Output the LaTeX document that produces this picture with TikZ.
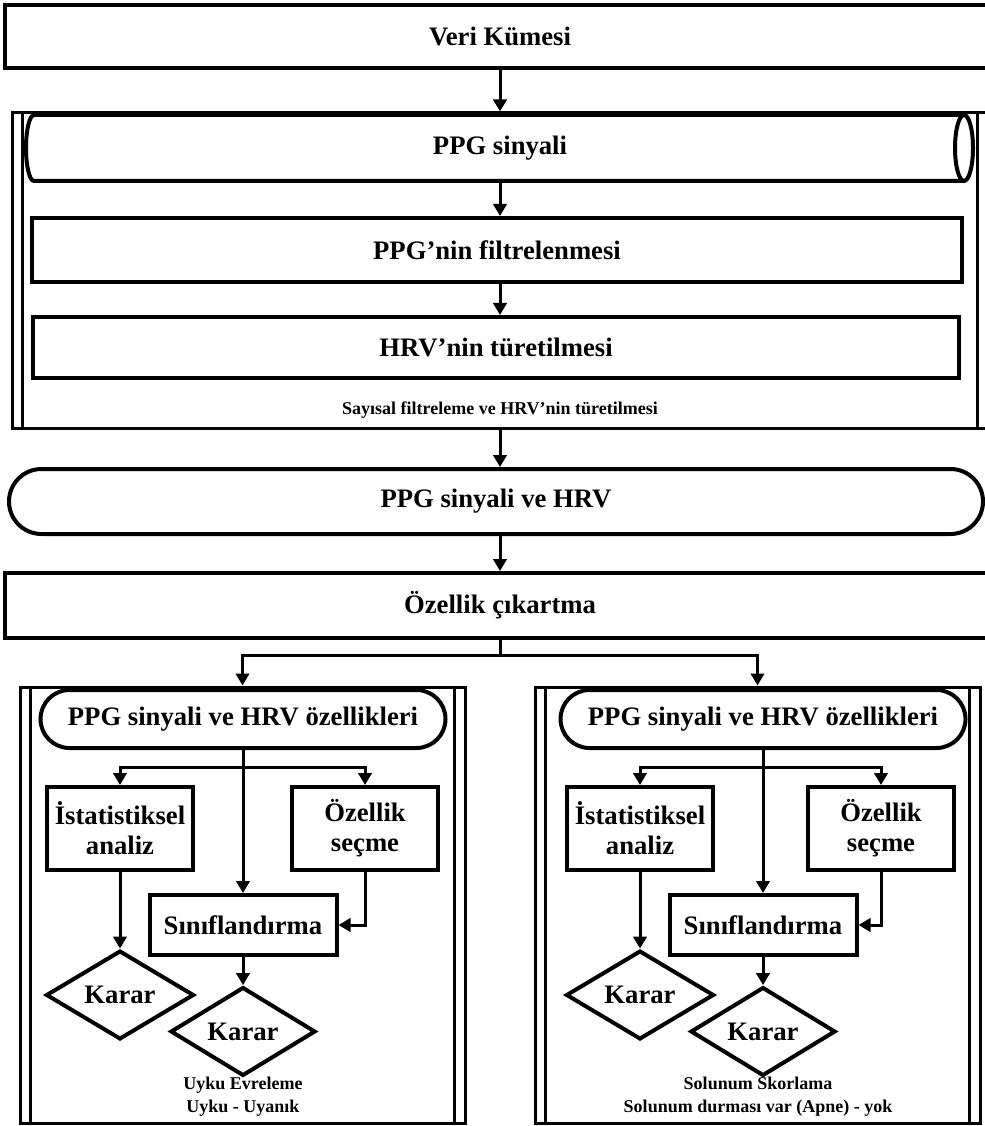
\documentclass[tikz,border=0pt]{standalone}
\usepackage{fontspec}
\setmainfont{Liberation Serif}
\usetikzlibrary{arrows.meta,shapes.geometric,shapes.misc}

\tikzset{
	kutu/.style={draw, line width=3pt, rectangle, inner sep=0pt, align=center, font=\fontsize{20}{22.5}\selectfont\bfseries},
	uc/.style={draw, line width=3pt, rounded rectangle, inner sep=0pt, font=\fontsize{20}{22.5}\selectfont\bfseries},
	karar/.style={draw, line width=3pt, diamond, inner sep=0pt, font=\fontsize{20}{22.5}\selectfont\bfseries},
	cerceve/.style={draw, line width=2.25pt, rectangle, inner sep=0pt},
	yazi/.style={inner sep=0.75pt, align=center, font=\fontsize{13.5}{17}\selectfont\bfseries},
	ok/.style={line width=2.25pt, -{Triangle[length=9pt,width=10pt]}},
}

\begin{document}
\begin{tikzpicture}[x=0.75pt,y=0.75pt,yscale=-1,xscale=1]
	\useasboundingbox (0,0) rectangle (984,1126);
	
	%Shape: Rectangle [id:veri]
	\draw (500,36.5) node [kutu, minimum width=742.5pt, minimum height=47.25pt] (veri) {Veri Kümesi};
	%Shape: Predefined process [id:filtre]
	\draw (500,270.5) node [cerceve, minimum width=732pt, minimum height=236.25pt] (filtre) {};
	\draw [line width=2.25pt] ([xshift=9pt]filtre.north west) -- ([xshift=9pt]filtre.south west);
	\draw [line width=2.25pt] ([xshift=-9pt]filtre.north east) -- ([xshift=-9pt]filtre.south east);
	%Shape: Cylinder [id:sinyal]
	\draw [line width=3pt] (964,115) -- (34,115) arc [start angle=270, end angle=90, x radius=8, y radius=33] -- (964,181) ;
	\draw [line width=3pt] (964,148) ellipse [x radius=9, y radius=33] ;
	\draw (500,148) node [kutu, draw=none, minimum width=711pt, minimum height=49.5pt] (sinyal) {PPG sinyali};
	%Shape: Rectangle [id:filtrele]
	\draw (497,250) node [kutu, minimum width=697.5pt, minimum height=48pt] (filtrele) {PPG’nin filtrelenmesi};
	%Shape: Rectangle [id:turet]
	\draw (496,347.5) node [kutu, minimum width=694.5pt, minimum height=45.75pt] (turet) {HRV’nin türetilmesi};
	% Text Node
	\draw (500,410) node [yazi] (filtreyazi) {Sayısal filtreleme ve HRV’nin türetilmesi};
	%Shape: Terminator [id:hrv]
	\draw (496,501.5) node [uc, minimum width=730.5pt, minimum height=48.75pt] (hrv) {PPG sinyali ve HRV};
	%Shape: Rectangle [id:ozellik]
	\draw (500,605.5) node [kutu, minimum width=742.5pt, minimum height=48.75pt] (ozellik) {Özellik çıkartma};
	
	%Shape: Predefined process [id:solpanel]
	\draw (242.5,905) node [cerceve, minimum width=333.75pt, minimum height=327pt] (solpanel) {};
	\draw [line width=2.25pt] ([xshift=9pt]solpanel.north west) -- ([xshift=9pt]solpanel.south west);
	\draw [line width=2.25pt] ([xshift=-9pt]solpanel.north east) -- ([xshift=-9pt]solpanel.south east);
	%Shape: Predefined process [id:sagpanel]
	\draw (757.5,905) node [cerceve, minimum width=333.75pt, minimum height=327pt] (sagpanel) {};
	\draw [line width=2.25pt] ([xshift=9pt]sagpanel.north west) -- ([xshift=9pt]sagpanel.south west);
	\draw [line width=2.25pt] ([xshift=-9pt]sagpanel.north east) -- ([xshift=-9pt]sagpanel.south east);
	
	% left panel
	\draw (243,719) node [uc, minimum width=303.75pt, minimum height=43.5pt] (ozsol) {PPG sinyali ve HRV özellikleri};
	\draw (120,828.5) node [kutu, minimum width=109.5pt, minimum height=62.25pt] (istsol) {İstatistiksel\\analiz};
	\draw (365,828.5) node [kutu, minimum width=109.5pt, minimum height=62.25pt] (secsol) {Özellik\\seçme};
	\draw (243,925) node [kutu, minimum width=140.25pt, minimum height=45pt] (sinsol) {Sınıflandırma};
	\draw (120,995) node [karar, minimum width=111pt, minimum height=48.75pt] (karsol1) {Karar};
	\draw (243,1031.5) node [karar, minimum width=108.75pt, minimum height=47.25pt] (karsol2) {Karar};
	% Text Node
	\draw (243,1097) node [yazi] (yazisol) {Uyku Evreleme\\Uyku - Uyanık};
	
	% right panel
	\draw (763,719) node [uc, minimum width=303.75pt, minimum height=43.5pt] (ozsag) {PPG sinyali ve HRV özellikleri};
	\draw (640,828.5) node [kutu, minimum width=109.5pt, minimum height=62.25pt] (istsag) {İstatistiksel\\analiz};
	\draw (881,828.5) node [kutu, minimum width=109.5pt, minimum height=62.25pt] (secsag) {Özellik\\seçme};
	\draw (763,925) node [kutu, minimum width=140.25pt, minimum height=45pt] (sinsag) {Sınıflandırma};
	\draw (640,995) node [karar, minimum width=111pt, minimum height=48.75pt] (karsag1) {Karar};
	\draw (763,1031.5) node [karar, minimum width=108.75pt, minimum height=47.25pt] (karsag2) {Karar};
	% Text Node
	\draw (758,1097) node [yazi] (yazisag) {Solunum Skorlama\\Solunum durması var (Apne) - yok};
	
	% arrows
	\draw [ok] (veri.south) -- (filtre.north);
	\draw [ok] (sinyal.south) -- (sinyal.south |- filtrele.north);
	\draw [ok] (sinyal.south |- filtrele.south) -- (sinyal.south |- turet.north);
	\draw [ok] (filtre.south) -- (filtre.south |- hrv.north);
	\draw [ok] (hrv.south -| ozellik.north) -- (ozellik.north);
	\draw [ok] (ozellik.south) -- ++(0,15) -| (solpanel.north);
	\draw [ok] (ozellik.south) -- ++(0,15) -| (sagpanel.north);
	
	\draw [ok] (ozsol.south) -- (sinsol.north);
	\draw [ok] (ozsol.south) -- ++(0,17) -| (istsol.north);
	\draw [ok] (ozsol.south) -- ++(0,17) -| (secsol.north);
	\draw [ok] (secsol.south) |- (sinsol.east);
	\draw [ok] (istsol.south) -- (karsol1.north);
	\draw [ok] (sinsol.south) -- (karsol2.north);
	
	\draw [ok] (ozsag.south) -- (sinsag.north);
	\draw [ok] (ozsag.south) -- ++(0,17) -| (istsag.north);
	\draw [ok] (ozsag.south) -- ++(0,17) -| (secsag.north);
	\draw [ok] (secsag.south) |- (sinsag.east);
	\draw [ok] (istsag.south) -- (karsag1.north);
	\draw [ok] (sinsag.south) -- (karsag2.north);
	
\end{tikzpicture}
\end{document}
